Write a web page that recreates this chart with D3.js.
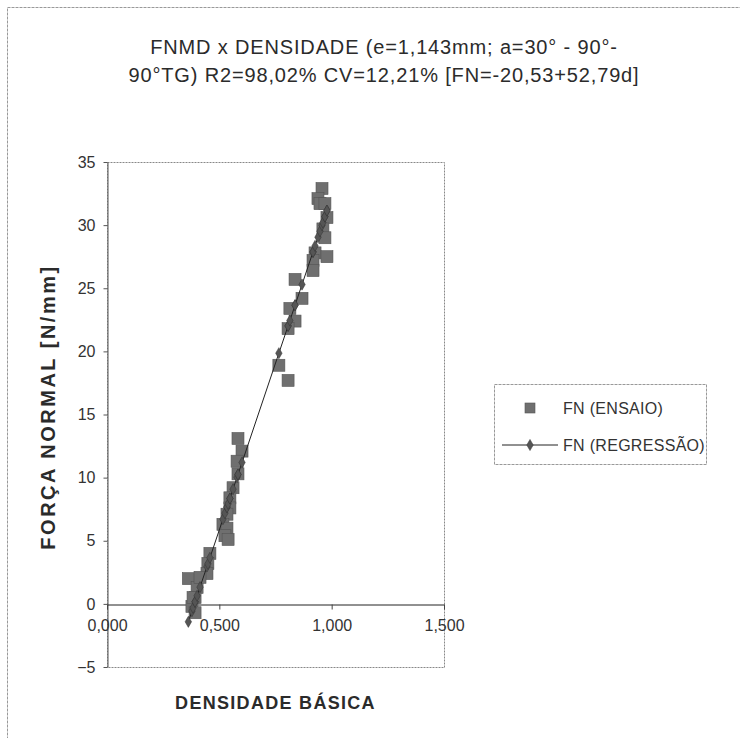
<!DOCTYPE html>
<html>
<head>
<meta charset="utf-8">
<script src="https://cdn.jsdelivr.net/npm/d3@7"></script>
<style>
  html, body { margin: 0; padding: 0; background: #fff; }
  svg { display: block; font-family: "Liberation Sans", Arial, sans-serif; }
</style>
</head>
<body>
<div id="chart"></div>
<script>
// Basic density of each specimen and the measured normal force (N/mm)
const densidade = [
  0.957, 0.939, 0.948, 0.970, 0.979, 0.961, 0.970, 0.926, 0.979, 0.917,
  0.917, 0.837, 0.868, 0.814, 0.837, 0.806, 0.765, 0.806, 0.583, 0.601,
  0.579, 0.583, 0.561, 0.547, 0.547, 0.534, 0.516, 0.534, 0.525, 0.539,
  0.458, 0.449, 0.445, 0.362, 0.401, 0.392, 0.378, 0.392, 0.414, 0.383
];
const fnEnsaio = [
  32.9, 32.1, 31.7, 31.7, 30.6, 29.7, 29.0, 27.8, 27.5, 27.2,
  26.4, 25.7, 24.2, 23.4, 22.4, 21.8, 18.9, 17.7, 13.1, 12.1,
  11.3, 10.3, 9.2, 8.4, 7.6, 7.1, 6.3, 6.0, 5.4, 5.1,
  4.0, 3.2, 2.4, 2.0, 1.3, 0.5, -0.2, -0.7, 2.1, 0.5
];
// Fitted model FN = a + b·d
const intercepto = -20.53;
const inclinacao = 52.79;

const xTicks = [0, 0.5, 1.0, 1.5];
const yTicks = [-5, 0, 5, 10, 15, 20, 25, 30, 35];
const titulo = [
  "FNMD x DENSIDADE (e=1,143mm; a=30° - 90°-",
  "90°TG) R2=98,02% CV=12,21% [FN=-20,53+52,79d]"
];
const legenda = ["FN (ENSAIO)", "FN (REGRESSÃO)"];

const W = 740, H = 738;
const svg = d3.select("#chart").append("svg").attr("width", W).attr("height", H);

// outer chart border
svg.append("rect").attr("x", 7.5).attr("y", 7.5).attr("width", 760).attr("height", 760)
  .attr("fill", "none").attr("stroke", "#999").attr("stroke-width", 1)
  .attr("stroke-dasharray", "3,1");

const plot = { left: 107, right: 444, top: 162, bottom: 667 };
const x = d3.scaleLinear().domain([0, 1.5]).range([plot.left, plot.right]);
const y = d3.scaleLinear().domain([-5, 35]).range([plot.bottom, plot.top]);

// title
svg.append("g").selectAll("text").data(titulo).join("text")
  .attr("x", 384).attr("y", (d, i) => 54 + i * 28)
  .attr("text-anchor", "middle").attr("font-size", 20).attr("letter-spacing", 0.85)
  .attr("fill", "#2b2b2b").text(d => d);

// plot frame
svg.append("rect").attr("x", plot.left + 0.5).attr("y", plot.top + 0.5)
  .attr("width", plot.right - plot.left).attr("height", plot.bottom - plot.top)
  .attr("fill", "none").attr("stroke", "#888").attr("stroke-width", 1)
  .attr("stroke-dasharray", "2,1");

// y axis
const yAxis = d3.axisLeft(y).tickValues(yTicks).tickSize(4).tickSizeOuter(0)
  .tickFormat(d3.format("d"));
const gy = svg.append("g").attr("transform", `translate(${plot.left + 0.5},0)`).call(yAxis);
gy.select(".domain").attr("stroke", "#555");
gy.selectAll(".tick line").attr("stroke", "#555");
gy.selectAll(".tick text").attr("font-size", 16).attr("fill", "#333")
  .attr("font-family", "Liberation Sans, Arial, sans-serif").attr("x", -12);

// x axis along FN = 0
const fmtX = v => d3.format(".3f")(v).replace(".", ",");
const xAxis = d3.axisBottom(x).tickValues(xTicks).tickSize(5).tickSizeOuter(0).tickFormat(fmtX);
const gx = svg.append("g").attr("transform", `translate(0,${Math.round(y(0)) + 0.5})`).call(xAxis);
gx.select(".domain").attr("stroke", "#222");
gx.selectAll(".tick line").attr("stroke", "#444");
gx.selectAll(".tick text").attr("font-size", 16).attr("fill", "#333")
  .attr("font-family", "Liberation Sans, Arial, sans-serif").attr("dy", "0.35em").attr("y", 21);

// axis titles
svg.append("text").attr("transform", `translate(48,407) rotate(-90)`)
  .attr("text-anchor", "middle").attr("dy", "0.35em").attr("font-size", 20).attr("font-weight", "bold")
  .attr("letter-spacing", 2.5).attr("fill", "#2b2b2b").text("FORÇA NORMAL [N/mm]");
svg.append("text").attr("x", (plot.left + plot.right) / 2).attr("y", 709)
  .attr("text-anchor", "middle").attr("font-size", 18).attr("font-weight", "bold")
  .attr("letter-spacing", 1.3).attr("fill", "#2b2b2b").text("DENSIDADE BÁSICA");

// measured points
const pontos = densidade.map((d, i) => ({ d, fn: fnEnsaio[i] }));
const S = 12;
svg.append("g").selectAll("rect").data(pontos).join("rect")
  .attr("x", p => x(p.d) - S / 2).attr("y", p => y(p.fn) - S / 2)
  .attr("width", S).attr("height", S)
  .attr("fill", "#6f6f6f").attr("stroke", "#555").attr("stroke-width", 0.6);

// regression line with diamond markers at each specimen density
const reg = densidade.map(d => ({ d, fn: intercepto + inclinacao * d }))
  .sort((a, b) => a.d - b.d);
const linha = d3.line().x(p => x(p.d)).y(p => y(p.fn));
svg.append("path").datum(reg).attr("d", linha)
  .attr("fill", "none").attr("stroke", "#222").attr("stroke-width", 1);
const diamante = d3.symbol().type(d3.symbolDiamond).size(36);
svg.append("g").selectAll("path").data(reg).join("path")
  .attr("transform", p => `translate(${x(p.d)},${y(p.fn)})`)
  .attr("d", diamante).attr("fill", "#555").attr("stroke", "#333").attr("stroke-width", 0.5);

// legend
const lg = svg.append("g").attr("transform", "translate(494,384)");
lg.append("rect").attr("x", 0.5).attr("y", 0.5).attr("width", 212).attr("height", 80)
  .attr("fill", "#fff").attr("stroke", "#999").attr("stroke-dasharray", "3,1");
lg.append("rect").attr("x", 36 - S / 2 + 1).attr("y", 24 - S / 2 + 1).attr("width", S - 2).attr("height", S - 2)
  .attr("fill", "#6f6f6f").attr("stroke", "#555").attr("stroke-width", 0.6);
lg.append("line").attr("x1", 8).attr("x2", 64).attr("y1", 61).attr("y2", 61)
  .attr("stroke", "#222").attr("stroke-width", 1);
lg.append("path").attr("transform", "translate(36,61)").attr("d", diamante)
  .attr("fill", "#555").attr("stroke", "#333").attr("stroke-width", 0.5);
lg.selectAll("text.lbl").data(legenda).join("text").attr("class", "lbl")
  .attr("x", 69).attr("y", (d, i) => 24 + i * 37).attr("dy", "0.35em")
  .attr("font-size", 16).attr("letter-spacing", 0.3).attr("fill", "#333").text(d => d);
</script>
</body>
</html>
